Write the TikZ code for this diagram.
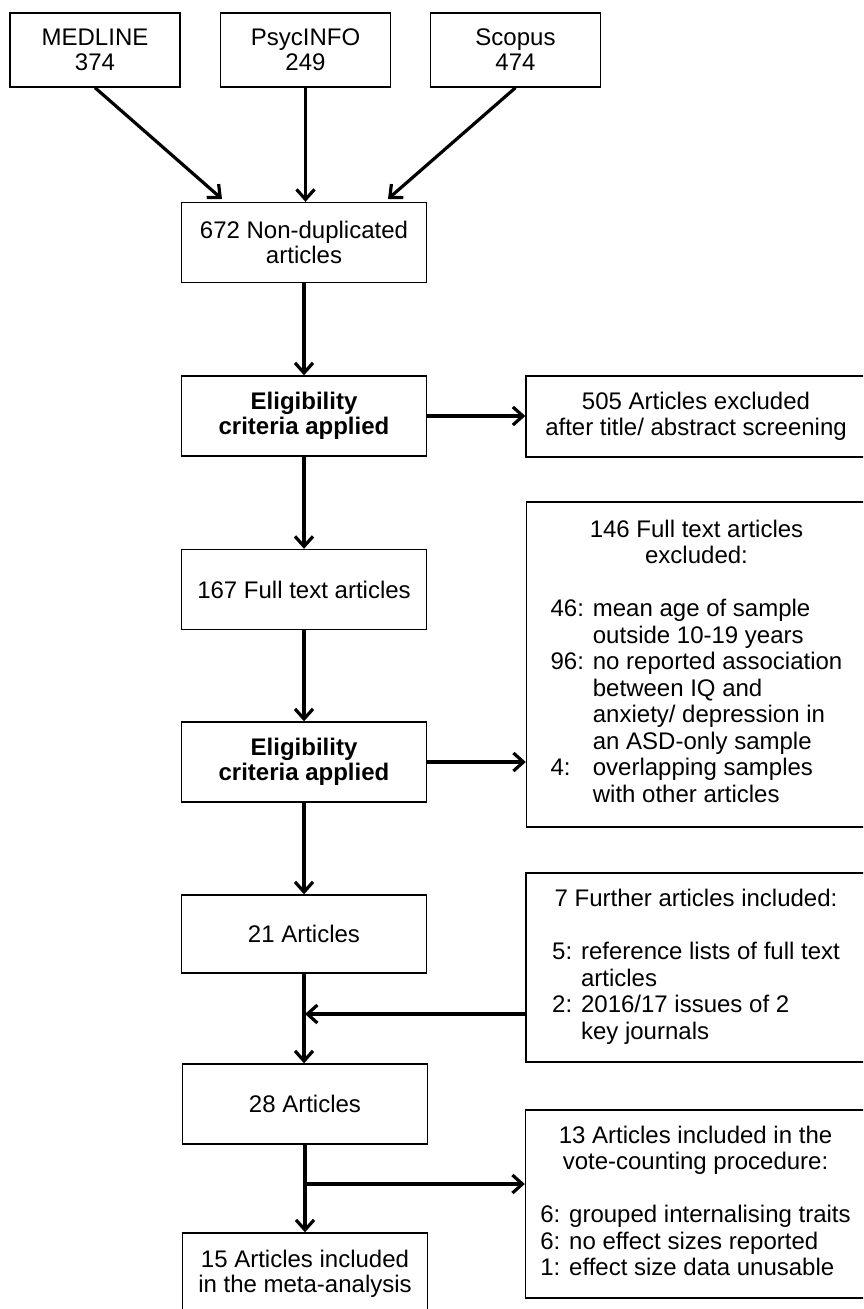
\documentclass[tikz,border=0pt]{standalone}
\usepackage{fontspec}
\setmainfont{Liberation Sans}
\usetikzlibrary{arrows.meta}
\begin{document}
\begin{tikzpicture}[x=0.5pt,y=-0.5pt,
		font=\fontsize{12}{12.5}\selectfont,
		box/.style={draw,line width=0.7pt,inner sep=0pt,align=center},
		src/.style={box,minimum width=85pt,minimum height=37pt},
		stage/.style={box,minimum width=122.5pt,minimum height=40pt},
		side/.style={box,minimum width=170pt,font=\fontsize{12}{13.25}\selectfont},
		arr/.style={line width=1.6pt,-{Straight Barb[length=5pt,width=9pt]}}]
		\useasboundingbox (0,0) rectangle (863,1309);
		\clip (0,0) rectangle (863,1309);
		\node[src] (medline) at (95,50) {MEDLINE\\374};
		\node[src] (psyc) at (305.5,50) {PsycINFO\\249};
		\node[src] (scopus) at (515.5,50) {Scopus\\474};
		\node[stage] (nondup) at (304,242.5) {672 Non-duplicated\\articles};
		\node[stage] (elig1) at (304,416) {\textbf{Eligibility}\\\textbf{criteria applied}};
		\node[side,minimum height=40.5pt] (excl1) at (696,416.5) {505 Articles excluded\\after title/ abstract screening};
		\node[stage] (fulltext) at (304,589.5) {167 Full text articles};
		\node[side,minimum height=162.5pt] (excl2) at (696.5,664.5) {\begin{tabular}{@{}l@{ }l@{}}
			\multicolumn{2}{@{}c@{}}{146 Full text articles}\\
			\multicolumn{2}{@{}c@{}}{excluded:}\\
			\\
			46: & mean age of sample\\
			& outside 10-19 years\\
			96: & no reported association\\
			& between IQ and\\
			& anxiety/ depression in\\
			& an ASD-only sample\\
			4: & overlapping samples\\
			& with other articles
		\end{tabular}};
		\node[stage] (elig2) at (304,762) {\textbf{Eligibility}\\\textbf{criteria applied}};
		\node[stage,minimum height=39pt] (art21) at (304,934) {21 Articles};
		\node[side,minimum height=94.5pt] (further) at (696,967.5) {\begin{tabular}{@{}l@{ }l@{}}
			\multicolumn{2}{@{}c@{}}{7 Further articles included:}\\
			\\
			5: & reference lists of full text\\
			& articles\\
			2: & 2016/17 issues of 2\\
			& key journals
		\end{tabular}};
		\node[stage] (art28) at (305,1104) {28 Articles};
		\node[side,minimum height=94pt] (vote) at (695.5,1204) {\begin{tabular}{@{}l@{ }l@{}}
			\multicolumn{2}{@{}c@{}}{13 Articles included in the}\\
			\multicolumn{2}{@{}c@{}}{vote-counting procedure:}\\
			\\
			6: & grouped internalising traits\\
			6: & no effect sizes reported\\
			1: & effect size data unusable
		\end{tabular}};
		\node[stage,minimum height=41pt] (art15) at (305,1274) {15 Articles included\\in the meta-analysis};
		\coordinate (inL) at (222,199);
		\coordinate (inR) at (388,199);
		\coordinate (join1) at (305,1014);
		\coordinate (join2) at (305,1184);
		\draw[arr] (medline.south) -- (inL);
		\draw[arr] (psyc.south) -- (psyc.south |- nondup.north);
		\draw[arr] (scopus.south) -- (inR);
		\draw[arr] (nondup.south) -- (elig1.north);
		\draw[arr] (elig1.east) -- (elig1.east -| excl1.west);
		\draw[arr] (elig1.south) -- (fulltext.north);
		\draw[arr] (fulltext.south) -- (elig2.north);
		\draw[arr] (elig2.east) -- (elig2.east -| excl2.west);
		\draw[arr] (elig2.south) -- (art21.north);
		\draw[arr] (art21.south) -- (art21.south |- art28.north);
		\draw[arr] (join1 -| further.west) -- (join1);
		\draw[arr] (art28.south) -- (art15.north);
		\draw[arr] (join2) -- (join2 -| vote.west);
\end{tikzpicture}
\end{document}
